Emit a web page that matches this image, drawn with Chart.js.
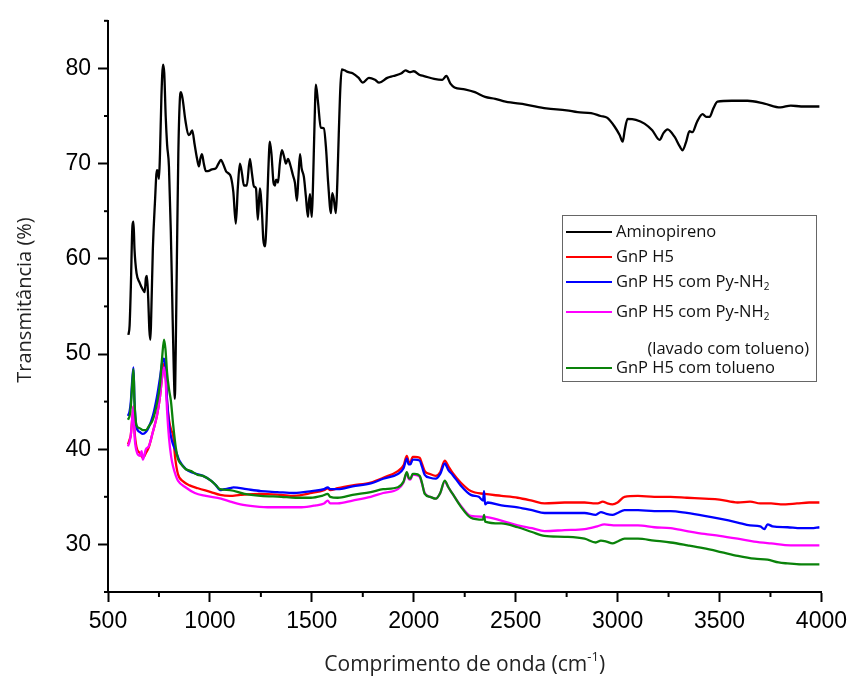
<!DOCTYPE html>
<html>
<head>
<meta charset="utf-8">
<script src="https://cdn.jsdelivr.net/npm/chart.js@4.4.0/dist/chart.umd.min.js"></script>
<style>
  body { margin: 0; background: #fff; }
  #wrap { width: 853px; height: 678px; }
</style>
</head>
<body>
<div id="wrap"><canvas id="ftir" width="853" height="678"></canvas></div>
<script>
// FTIR spectra, [wavenumber cm-1, transmittance %]
const aminopireno = [[600,52.0],[606,53],[612,57],[620,63.5],[625,63.9],[630,61],[640,58.5],[655,57.5],[670,56.8],[680,56.5],[686,58.0],[691,58.2],[697,56],[703,52.5],[708,51.5],[712,54],[720,61],[730,65.8],[740,69.3],[745,69.2],[750,68.4],[755,71],[762,77],[770,80.4],[776,79.5],[783,75],[790,72],[799,69.7],[808,63],[815,56],[822,49],[828,45.3],[832,50],[838,60],[845,71],[852,76.5],[858,77.5],[866,76.8],[880,74.5],[895,73.0],[903,73.1],[913,73.5],[925,72],[937,70.5],[946,69.7],[953,70.5],[961,71.0],[970,70.0],[980,69.2],[990,69.2],[1010,69.4],[1029,69.5],[1042,70],[1054,70.4],[1066,69.9],[1079,69.2],[1090,69.0],[1103,68.6],[1115,67],[1127,63.7],[1137,67.5],[1147,70.0],[1157,69],[1167,67.7],[1181,67.7],[1196,70.5],[1206,69],[1216,67.6],[1226,67.4],[1235,64.1],[1245,67.4],[1255,65],[1262,62],[1270,61.3],[1278,64],[1286,69],[1294,72.3],[1302,71],[1312,68],[1319,67.7],[1324,68.3],[1329,68.3],[1334,68],[1343,70],[1353,71.4],[1363,70.8],[1373,70.0],[1383,70.5],[1395,69.8],[1407,68.8],[1417,68],[1427,66.1],[1434,68.5],[1442,71.0],[1450,69.5],[1461,68.6],[1471,66.5],[1481,64.4],[1486,66],[1491,66.8],[1495,65.5],[1500,64.4],[1506,68],[1513,74],[1520,78.3],[1530,76.5],[1544,73.8],[1559,73.7],[1570,71.5],[1580,68],[1594,64.8],[1600,66.9],[1607,66.4],[1618,64.8],[1625,68],[1632,73],[1640,78],[1647,79.9],[1660,79.8],[1680,79.6],[1700,79.5],[1730,79.0],[1750,78.5],[1780,79.0],[1810,78.8],[1830,78.5],[1870,79.0],[1900,79.2],[1940,79.5],[1960,79.8],[1980,79.6],[2000,79.7],[2030,79.3],[2050,79.2],[2100,78.9],[2140,78.8],[2160,79.2],[2180,78.4],[2200,78.0],[2250,77.8],[2300,77.5],[2350,77.0],[2400,76.8],[2450,76.5],[2550,76.2],[2650,75.8],[2750,75.6],[2804,75.4],[2870,75.3],[2917,75.0],[2950,74.8],[2985,73.9],[3010,73.0],[3025,72.3],[3035,73.5],[3049,74.7],[3090,74.6],[3132,74.2],[3170,73.5],[3206,72.5],[3225,73.2],[3245,73.6],[3280,72.8],[3305,71.8],[3319,71.4],[3335,72.2],[3353,73.4],[3367,73.3],[3390,74.4],[3417,75.2],[3435,74.9],[3451,74.9],[3470,75.8],[3490,76.5],[3560,76.6],[3637,76.6],[3720,76.3],[3799,75.9],[3850,76.1],[3900,76.0],[3950,76.0],[3990,76.0]];

const gnpH5 = [[598,40.5],[606,41],[612,41.5],[618,43],[625,44.5],[630,42],[640,40.2],[656,39.6],[671,39.1],[686,39.6],[700,40.2],[720,41.8],[740,43.5],[755,45.5],[765,47.5],[775,49.0],[782,48],[790,45],[800,43],[810,42],[819,41.5],[830,39],[843,37.4],[870,36.6],[900,36.2],[941,35.9],[1005,35.5],[1050,35.2],[1098,35.1],[1150,35.2],[1250,35.3],[1350,35.2],[1413,35.1],[1500,35.4],[1560,35.7],[1578,35.9],[1590,35.7],[1627,35.9],[1700,36.2],[1789,36.5],[1850,37.0],[1922,37.7],[1950,38.3],[1966,39.3],[1975,38.7],[1983,38.6],[1995,39.2],[2005,39.2],[2029,39.1],[2040,38.5],[2054,37.7],[2080,37.4],[2108,37.2],[2130,37.6],[2152,38.8],[2170,38.2],[2191,37.5],[2230,36.5],[2280,35.6],[2348,35.3],[2430,35.1],[2510,34.9],[2580,34.6],[2642,34.3],[2740,34.4],[2838,34.4],[2880,34.3],[2903,34.3],[2927,34.5],[2950,34.3],[2975,34.2],[3000,34.4],[3034,35.0],[3100,35.1],[3180,35.0],[3260,35.0],[3340,34.9],[3426,34.8],[3500,34.7],[3589,34.4],[3650,34.5],[3700,34.3],[3753,34.3],[3800,34.2],[3880,34.3],[3940,34.4],[3990,34.4]];

const gnpPyNH2 = [[598,43.5],[606,44],[612,45],[618,47],[625,48.6],[630,45],[640,42.3],[656,41.8],[671,41.6],[686,41.8],[700,42.3],[720,43.5],[740,45.5],[755,47.5],[765,49],[775,49.5],[782,48.5],[790,45],[800,42.5],[810,41.2],[819,40.5],[833,39.8],[850,38.8],[882,37.9],[920,37.5],[966,37.2],[1005,36.7],[1030,36.2],[1049,35.7],[1070,35.8],[1098,35.9],[1115,36.0],[1180,35.8],[1250,35.6],[1330,35.5],[1413,35.4],[1500,35.6],[1560,35.8],[1578,36.0],[1590,35.8],[1627,35.8],[1700,36.1],[1789,36.4],[1850,36.9],[1922,37.4],[1950,38.0],[1966,39.0],[1975,38.4],[1983,38.4],[1995,38.9],[2005,38.9],[2029,38.8],[2040,38.2],[2054,37.3],[2080,37.0],[2108,36.9],[2130,37.4],[2152,38.5],[2170,37.8],[2191,37.3],[2230,36.2],[2280,35.2],[2319,35.0],[2340,34.6],[2345,35.6],[2350,34.2],[2363,34.4],[2430,34.1],[2510,33.9],[2580,33.6],[2642,33.3],[2740,33.3],[2838,33.3],[2893,33.1],[2918,33.4],[2945,33.2],[2975,33.1],[3000,33.3],[3034,33.6],[3100,33.6],[3180,33.5],[3260,33.5],[3340,33.3],[3426,33.0],[3500,32.7],[3589,32.3],[3650,32.0],[3700,31.9],[3720,31.6],[3736,32.1],[3760,31.9],[3834,31.8],[3900,31.7],[3950,31.7],[3990,31.8]];

const gnpPyNH2Lavado = [[598,40.3],[606,40.8],[612,41.5],[618,43],[625,44.5],[630,41.5],[640,39.8],[656,39.3],[665,39.8],[671,38.9],[686,40.0],[700,40.3],[720,41.8],[740,43.5],[755,45.5],[765,47.5],[775,48.6],[782,47.5],[790,44],[800,41],[810,39.2],[819,38.2],[833,37.2],[843,36.7],[880,36.0],[926,35.4],[980,35.1],[1054,34.8],[1100,34.5],[1150,34.2],[1220,34.0],[1300,33.9],[1380,33.9],[1450,33.9],[1520,34.1],[1560,34.3],[1578,34.6],[1590,34.3],[1627,34.3],[1700,34.6],[1789,35.0],[1850,35.4],[1922,35.8],[1950,36.5],[1966,37.5],[1975,36.9],[1983,36.8],[1995,37.3],[2005,37.3],[2029,37.1],[2040,36.4],[2054,35.4],[2080,35.0],[2108,34.8],[2130,35.4],[2152,36.6],[2170,36.0],[2191,35.3],[2230,34.1],[2280,33.0],[2348,32.9],[2430,32.5],[2510,32.0],[2580,31.7],[2642,31.4],[2740,31.5],[2838,31.6],[2900,31.9],[2935,32.1],[2980,32.0],[3034,32.0],[3100,32.0],[3180,31.8],[3260,31.7],[3340,31.4],[3426,31.1],[3500,30.9],[3589,30.6],[3670,30.3],[3753,30.1],[3850,29.9],[3920,29.9],[3990,29.9]];

const gnpTolueno = [[598,43.1],[606,43.5],[612,44.5],[618,46.5],[625,48.4],[630,45],[640,42.5],[656,42.2],[671,42.0],[686,42.0],[700,42.4],[720,43.1],[740,44.8],[755,46.8],[765,49.5],[775,51.5],[782,50.5],[790,48],[800,46.2],[809,45.0],[820,42.5],[833,40.1],[843,39.0],[860,38.4],[882,37.9],[908,37.7],[940,37.3],[966,37.2],[1005,36.7],[1030,36.2],[1049,35.8],[1098,35.7],[1170,35.3],[1250,35.1],[1350,35.0],[1420,34.9],[1495,34.9],[1550,35.1],[1578,35.3],[1590,35.0],[1627,34.9],[1700,35.2],[1789,35.5],[1850,35.8],[1922,36.0],[1950,36.6],[1966,37.6],[1975,37.0],[1983,36.9],[1995,37.4],[2005,37.4],[2029,37.2],[2040,36.5],[2054,35.3],[2080,35.0],[2108,34.8],[2130,35.4],[2152,36.7],[2170,36.0],[2191,35.3],[2230,34.0],[2280,32.8],[2340,32.6],[2345,33.1],[2350,32.4],[2430,32.2],[2510,31.8],[2580,31.3],[2642,30.9],[2740,30.8],[2838,30.6],[2893,30.2],[2918,30.4],[2945,30.3],[2975,30.1],[3000,30.3],[3034,30.6],[3100,30.6],[3179,30.4],[3260,30.2],[3343,29.9],[3420,29.6],[3507,29.2],[3590,28.8],[3672,28.5],[3736,28.4],[3790,28.1],[3834,28.0],[3900,27.9],[3950,27.9],[3990,27.9]];

const seriesNames = ['Aminopireno', 'GnP H5', 'GnP H5 com Py-NH_2', 'GnP H5 com Py-NH_2', 'GnP H5 com tolueno'];
const seriesColors = ['#000000', '#ff0000', '#0000ff', '#ff00ff', '#0a820a'];
const xTitle = 'Comprimento de onda (cm^-1)';
const yTitle = 'Transmitância (%)';

const FONT = '"Open Sans", "Noto Sans", sans-serif';

function toPoints(arr) {
    return arr.map(p => ({ x: p[0], y: p[1] }));
}

// draw text where "_x" is subscript and "^x" is superscript
function richText(ctx, txt, x, y, size) {
    let parts = txt.split(/([_^][^ )]+)/).filter(s => s.length);
    parts.forEach(s => {
        if (s[0] === '_' || s[0] === '^') {
            ctx.font = Math.round(size * 0.62) + 'px ' + FONT;
            let dy = s[0] === '_' ? size * 0.3 : -size * 0.38;
            ctx.fillText(s.slice(1), x, y + dy);
            x += ctx.measureText(s.slice(1)).width;
        } else {
            ctx.font = size + 'px ' + FONT;
            ctx.fillText(s, x, y);
            x += ctx.measureText(s).width;
        }
    });
    return x;
}

function richWidth(ctx, txt, size) {
    let w = 0;
    txt.split(/([_^][^ )]+)/).filter(s => s.length).forEach(s => {
        if (s[0] === '_' || s[0] === '^') {
            ctx.font = Math.round(size * 0.62) + 'px ' + FONT;
            w += ctx.measureText(s.slice(1)).width;
        } else {
            ctx.font = size + 'px ' + FONT;
            w += ctx.measureText(s).width;
        }
    });
    return w;
}

const extras = {
    id: 'extras',
    afterDraw(chart) {
        const ctx = chart.ctx;
        const xs = chart.scales.x, ys = chart.scales.y;
        ctx.save();
        ctx.strokeStyle = '#000';
        ctx.lineWidth = 2;
        // minor ticks
        xs.ticks.forEach(t => {
            if (t.value % 500 !== 0) {
                let px = xs.getPixelForValue(t.value);
                ctx.beginPath(); ctx.moveTo(px, ys.bottom); ctx.lineTo(px, ys.bottom + 5); ctx.stroke();
            }
        });
        ys.ticks.forEach(t => {
            if (t.value % 10 !== 0) {
                let py = ys.getPixelForValue(t.value);
                ctx.beginPath(); ctx.moveTo(xs.left - 4, py); ctx.lineTo(xs.left, py); ctx.stroke();
            }
        });

        // axis titles
        ctx.fillStyle = '#222';
        ctx.textBaseline = 'middle';
        ctx.textAlign = 'left';
        let w = richWidth(ctx, xTitle, 21);
        richText(ctx, xTitle, (xs.left + xs.right) / 2 - w / 2, 665, 21);
        ctx.save();
        ctx.translate(25, 300);
        ctx.rotate(-Math.PI / 2);
        w = richWidth(ctx, yTitle, 20);
        richText(ctx, yTitle, -w / 2, 0, 20);
        ctx.restore();

        // legend box
        ctx.lineWidth = 1;
        ctx.strokeStyle = '#666';
        ctx.strokeRect(562.5, 215.5, 254, 166);
        const rows = [232, 257, 282, 312, 368];
        chart.data.datasets.forEach((ds, i) => {
            ctx.strokeStyle = ds.borderColor;
            ctx.lineWidth = 2;
            ctx.beginPath(); ctx.moveTo(566, rows[i]); ctx.lineTo(612, rows[i]); ctx.stroke();
            ctx.fillStyle = '#111';
            richText(ctx, seriesNames[i], 616, rows[i], 16.5);
        });
        ctx.font = '16.5px ' + FONT;
        ctx.textAlign = 'right';
        ctx.fillText('(lavado com tolueno)', 809, 349);
        ctx.restore();
    }
};

const allSeries = [aminopireno, gnpH5, gnpPyNH2, gnpPyNH2Lavado, gnpTolueno];

new Chart(document.getElementById('ftir'), {
    type: 'line',
    data: {
        datasets: allSeries.map((s, i) => ({
            label: seriesNames[i],
            data: toPoints(s),
            borderColor: seriesColors[i],
            backgroundColor: seriesColors[i],
            borderWidth: 2.3,
            pointRadius: 0,
            cubicInterpolationMode: 'monotone',
            order: allSeries.length - i,
            fill: false
        }))
    },
    options: {
        responsive: false,
        animation: false,
        layout: { padding: { left: 0, right: 29, top: 17, bottom: 0 } },
        plugins: { legend: { display: false }, tooltip: { enabled: false } },
        scales: {
            x: {
                type: 'linear', min: 500, max: 4000,
                afterFit: s => { s.height = 86; },
                ticks: {
                    stepSize: 250, autoSkip: false, maxRotation: 0, padding: 6,
                    color: '#000', font: { family: '"Liberation Sans", Arial', size: 23 },
                    callback: v => (v % 500 === 0 ? v : '')
                },
                grid: {
                    drawOnChartArea: false, tickLength: 10, tickWidth: 2,
                    tickColor: c => (c.tick && c.tick.value % 500 === 0 ? '#000' : 'rgba(0,0,0,0)')
                },
                border: { color: '#000', width: 2 }
            },
            y: {
                min: 25, max: 85,
                afterFit: s => { s.width = 108; },
                ticks: {
                    stepSize: 5, autoSkip: false, padding: 7,
                    color: '#000', font: { family: '"Liberation Sans", Arial', size: 23 },
                    callback: v => (v % 10 === 0 ? v : '')
                },
                grid: {
                    drawOnChartArea: false, tickLength: 10, tickWidth: 2,
                    tickColor: c => (c.tick && c.tick.value % 10 === 0 ? '#000' : 'rgba(0,0,0,0)')
                },
                border: { color: '#000', width: 2 }
            }
        }
    },
    plugins: [extras]
});
</script>
</body>
</html>
